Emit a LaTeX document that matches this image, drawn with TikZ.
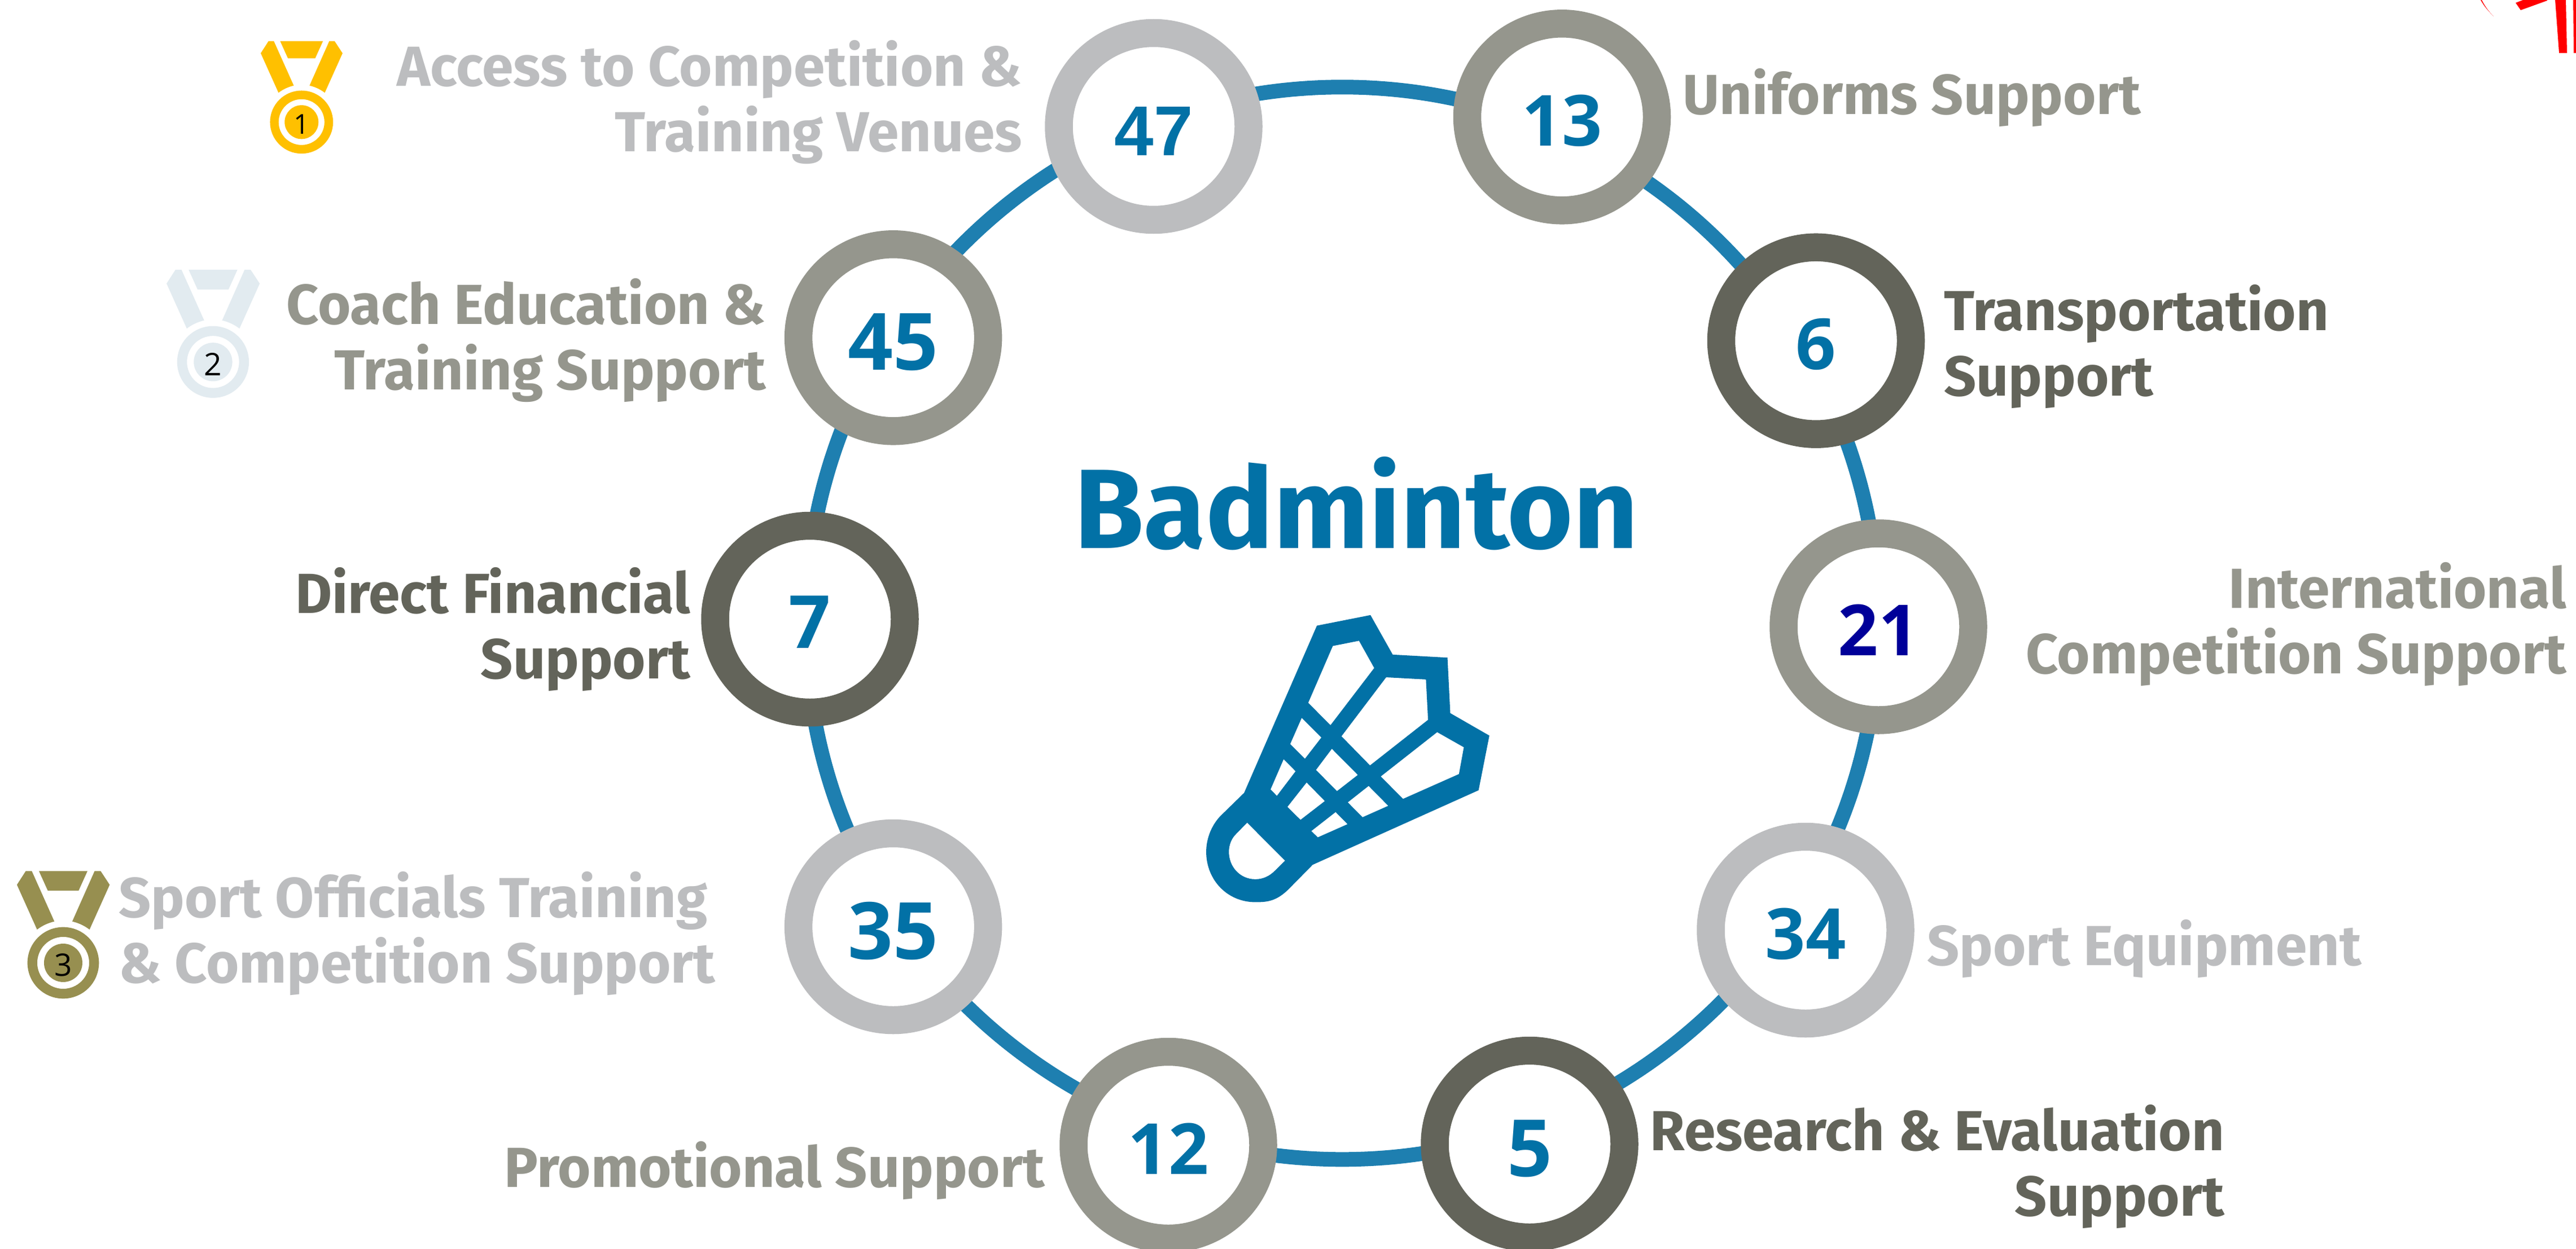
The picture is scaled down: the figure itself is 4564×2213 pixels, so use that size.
\documentclass[tikz,border=0pt]{standalone}
\usepackage{fontspec}
\usetikzlibrary{shapes.geometric}
\setmainfont{Fira Sans}
\newfontfamily\digitfont{Open Sans}
\newfontfamily\arialfont{Liberation Sans}
\definecolor{ringblue}{HTML}{1E7FB0}
\definecolor{numblue}{HTML}{0271A6}
\definecolor{navy}{HTML}{000099}
\definecolor{lightg}{HTML}{BCBDBF}
\definecolor{midg}{HTML}{95968D}
\definecolor{darkg}{HTML}{63645A}
\definecolor{gold}{HTML}{FFC000}
\definecolor{silver}{HTML}{E2EBF0}
\definecolor{bronze}{HTML}{978F50}
\tikzset{
  numring/.style={ellipse,fill=white,line width=49.5pt,minimum width=336pt,minimum height=331pt,inner sep=0pt,text=numblue,
    text height=102pt,text depth=0pt,
    font=\fontsize{125}{125}\selectfont\digitfont\bfseries},
  numbig/.style={text height=114pt,font=\fontsize{140}{140}\selectfont\digitfont\bfseries},
  nummid/.style={text height=102pt,font=\fontsize{130}{130}\selectfont\digitfont\bfseries},
  numarial/.style={font=\fontsize{125}{125}\selectfont\arialfont\bfseries},
  lab/.style={inner sep=0pt,font=\fontsize{100}{116}\selectfont\bfseries},
  medaltext/.style={inner sep=0pt,transform shape,text=black,font=\fontsize{165}{165}\selectfont\digitfont}
}
\newcommand{\medalicon}[6]{%
  \begin{scope}[shift={(#1,#2)},scale=#3]
    \fill[#4] (137,190)--(169,190)--(289,458) .. controls (255,466) and (225,480) .. (197,501)--(90,263)--cycle;
    \fill[#4] (207,190)--(465,190)--(418,294)--(254,294)--cycle;
    \fill[#4] (503,190)--(535,190)--(583,263)--(476,501) .. controls (448,480) and (418,466) .. (384,458)--cycle;
    \fill[#4,even odd rule] (336,678) circle[radius=190] (336,678) circle[radius=138];
    \fill[#4] (336,678) circle[radius=102];
    \node[medaltext] (#6) at (336,690) {#5};
  \end{scope}}
\begin{document}
\begin{tikzpicture}[x=1pt,y=-1pt]
\useasboundingbox (0,0) rectangle (4564,2213);
\fill[white] (0,0) rectangle (4564,2213);
% red fragment at the corner
\fill[red] (4397,0) .. controls (4403,12) and (4410,21) .. (4418,29) .. controls (4409,20) and (4401,11) .. (4395,0)--cycle;
\fill[red] (4457,5)--(4466,18)--(4513,1)--(4513,0)--(4470,0)--cycle;
\fill[red] (4527,0)--(4546,0)--(4548,94)--(4534,94)--cycle;
\fill[red] (4559,0)--(4564,0)--(4564,94)--(4560,94)--cycle;
% ring
\node[circle,draw=ringblue,line width=26pt,minimum size=1900pt,inner sep=0pt] (ring) at (2378,1104.3) {};
% numbered circles
\node[numring,numarial,draw=lightg] (n47) at (2044,224) {47};
\node[numring,draw=midg] (n13) at (2767.5,207.3) {13};
\node[numring,draw=darkg] (n6) at (3217.5,603.7) {6};
\node[numring,draw=midg,text=navy] (n21) at (3328,1110.5) {21};
\node[numring,draw=lightg] (n34) at (3199,1648) {34};
\node[numring,numbig,draw=darkg] (n5) at (2710,2027) {5};
\node[numring,draw=midg] (n12) at (2070,2029) {12};
\node[numring,numbig,draw=lightg] (n35) at (1582.6,1642) {35};
\node[numring,nummid,draw=darkg] (n7) at (1435,1097) {7};
\node[numring,numbig,draw=midg] (n45) at (1582.6,598.3) {45};
% labels
\node[lab,anchor=east,align=right,text=lightg] (l47) at (1811,181) {Access to Competition \&\\Training Venues};
\node[lab,anchor=west,text=midg] (l13) at (2981,173) {Uniforms Support};
\node[lab,anchor=west,align=left,text=darkg] (l6) at (3444,614) {Transportation\\Support};
\node[lab,anchor=east,align=right,text=midg] (l21) at (4547,1106) {International\\Competition Support};
\node[lab,anchor=west,text=lightg] (l34) at (3414,1681) {Sport Equipment};
\node[lab,anchor=east,align=right,text=darkg] (l5) at (3941,2067) {Research \& Evaluation\\Support};
\node[lab,anchor=east,text=midg] (l12) at (1851,2074) {Promotional Support};
\node[lab,anchor=west,align=left,text=lightg] (l35) at (210,1654) {Sport Officials Training\\\& Competition Support};
\node[lab,anchor=east,align=right,text=darkg] (l7) at (1223,1115) {Direct Financial\\Support};
\node[lab,anchor=east,align=right,text=midg] (l45) at (1357,603) {Coach Education \&\\Training Support};
% title
\node[inner sep=0pt,text=numblue,font=\fontsize{200}{200}\selectfont\bfseries] (title) at (2403,892) {Badminton};
% shuttlecock
\begin{scope}[shift={(2050,1050)},xscale=0.4146,yscale=0.3827]
\fill[numblue,even odd rule]
 (683,153)--(912,104)--(1007,287)--(1241,301)--(1253,558)--(1420,662)--(1374,915)--(665,1260)--(565,1370)
 .. controls (510,1430) and (470,1433) .. (420,1433) .. controls (300,1433) and (210,1330) .. (210,1200)
 .. controls (210,1135) and (235,1075) .. (270,1035)--(372,927)--cycle
 (385,1065)--(547,1241)--(503,1288) .. controls (480,1313) and (452,1327) .. (420,1327)
 .. controls (355,1327) and (307,1270) .. (307,1200) .. controls (307,1165) and (320,1135) .. (340,1115)--cycle
 (751,247)--(863,223)--(928,349)--(741,614)--(646,510)--cycle
 (979,392)--(1149,402)--(1158,589)--(910,800)--(788,665)--cycle
 (1197,646)--(1311,716)--(1290,840)--(1051,955)--(956,851)--cycle
 (618,580)--(702,671)--(632,769)--(569,701)--cycle
 (747,723)--(858,844)--(769,919)--(679,821)--cycle
 (904,895)--(988,987)--(878,1040)--(815,971)--cycle
 (541,771)--(592,827)--(512,941)--(485,911)--cycle
 (639,879)--(717,965)--(613,1052)--(557,992)--cycle
 (763,1016)--(814,1072)--(687,1133)--(659,1104)--cycle;
\end{scope}
% medals
\medalicon{435.5}{17}{0.294}{gold}{1}{m1}
\medalicon{265}{414.4}{0.3347}{silver}{2}{m2}
\medalicon{0}{1480}{0.3333}{bronze}{3}{m3}
\end{tikzpicture}
\end{document}
